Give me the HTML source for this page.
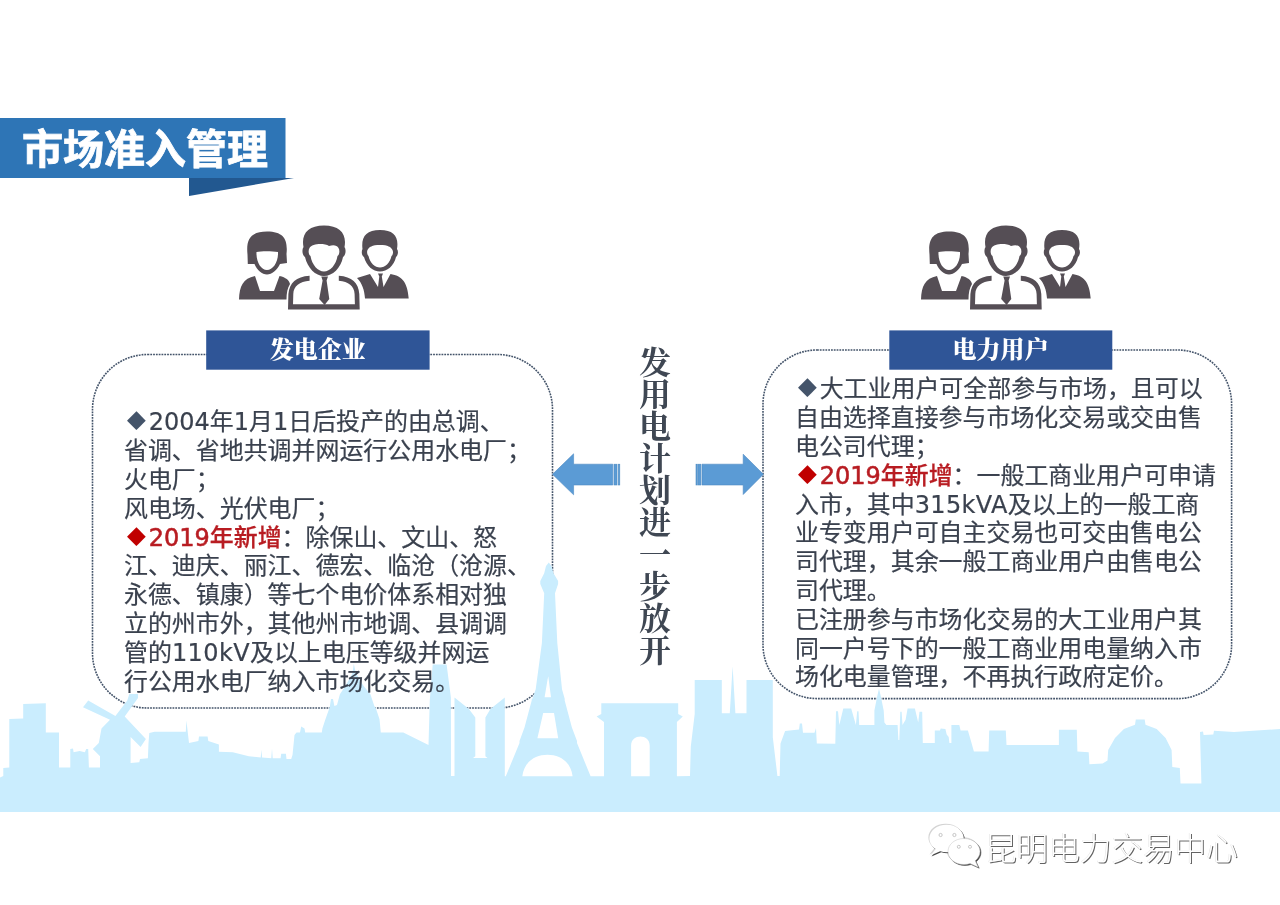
<!DOCTYPE html>
<html lang="zh-CN">
<head>
<meta charset="utf-8">
<title>市场准入管理</title>
<style>
html,body{margin:0;padding:0;background:#fff;}
body{width:1280px;height:905px;position:relative;overflow:hidden;
  font-family:"Liberation Sans","Noto Sans CJK SC",sans-serif;}
.abs{position:absolute;}
.ln,.title,.label,.vert,.wm{will-change:transform;}
.title{position:absolute;left:21.5px;top:120.7px;height:60px;line-height:59px;font-size:41px;font-weight:700;-webkit-text-stroke:0.8px #fff;
  color:#fff;white-space:nowrap;font-family:"Liberation Sans","Noto Sans CJK SC",sans-serif;}
.label{position:absolute;top:331px;height:40px;color:#fff;text-align:center;
  font-family:"Liberation Serif","Noto Serif CJK SC",serif;font-weight:900;font-size:24px;line-height:38px;white-space:nowrap;}
.ln{position:absolute;white-space:nowrap;font-size:23.95px;line-height:36px;height:36px;color:#3a414e;-webkit-text-stroke:0.2px #3a414e;
  font-family:"Liberation Sans","Noto Sans CJK SC",sans-serif;}
.dia{-webkit-text-stroke:0;display:inline-block;width:24.7px;text-align:center;font-family:"DejaVu Sans","Noto Sans CJK SC",sans-serif;font-size:24.5px;line-height:1;position:relative;top:-3px;}
.lat{font-family:"DejaVu Sans","Liberation Sans",sans-serif;font-size:24px;}
.latb{font-weight:400;-webkit-text-stroke:0.55px #b81c22;}
.red{color:#b81c22;font-weight:500;-webkit-text-stroke:0.25px #b81c22;}
.vert{position:absolute;left:638.6px;top:347.2px;width:32px;font-size:32px;line-height:32px;text-align:center;
  word-break:break-all;color:#3f4753;font-weight:700;font-family:"Liberation Serif","Noto Serif CJK SC",serif;}
.wm{position:absolute;left:984.6px;top:828.3px;font-size:31.6px;line-height:42px;white-space:nowrap;color:#fff;
  text-shadow:1px 1px 0.6px rgba(60,60,60,.8), -0.5px -0.5px 0.5px rgba(150,150,150,.3);
  font-family:"Liberation Sans","Noto Sans CJK SC",sans-serif;font-weight:300;}
</style>
</head>
<body>
<!-- dotted boxes -->
<svg class="abs" style="left:0;top:0" width="1280" height="905" viewBox="0 0 1280 905">
 <g fill="none" stroke="#44546a" stroke-width="1.6" stroke-dasharray="1.8 1.0">
  <rect x="92.5" y="354.5" width="460" height="353.5" rx="55" ry="55"/>
  <rect x="763" y="350" width="468.6" height="348.6" rx="54" ry="54"/>
 </g>
 <!-- skyline -->
 <path fill="#caedfe" fill-rule="evenodd" d="M0 812 L0 777.5 L3.3 776 L3.3 768 L9.3 767.6 L9.3 719 L23.2 718.5 L23.2 704 L45.8 703.3 L45.8 732.4 L59 732.4 L59 767.6 L70.3 767.6 L70.3 749 L73 748.4 L73.6 752.3 L79.6 751 L84.9 752.3 L86.2 749 L88.2 749 L88.9 767.6 L100 767.6 L100 756.3 L92.8 749 L98.8 743 L101.5 728.5 L110 719.8 L83 707.2 L88.2 700.6 L115.4 715.9 L127.3 700.6 L129.3 694 L138 694 L138 698 L124.7 716.5 L145.9 739 L140.6 747 L130.6 737 L130.6 763 L139.3 762.3 L140 759 L147.9 758.3 L148.5 743 L149.3 733 L154.6 731.8 L185.8 731.8 L186.4 720.5 L189 743 L198.4 741 L199 736.4 L207.6 736.4 L208.3 741 L218.9 744.4 L218.9 751.7 L232.8 752.3 L248.8 756.3 L260.7 757.6 L261.4 749.7 L262.1 757.6 L271.3 758.3 L272 748.4 L272.7 758.3 L280.6 758.3 L281.2 753.7 L285.9 753.7 L286.5 759 L291.2 759 L292.5 755 L294.5 735 L296.5 732.4 L300 732.4 L301.2 726.5 L304.5 728.5 L305.2 732.4 L321.8 732.4 L322.4 728.5 L325 720.5 L329.7 707.2 L331 699 L333 699 L334.4 706 L337 705 L339.9 694.3 L345.2 686.3 L350.5 677 L352.5 673 L353.8 663.8 L355.8 673 L363.8 686.3 L370.4 694.3 L374.4 706.2 L375.5 707.2 L379.5 719.2 L380.8 732.4 L403.3 732.4 L428.5 745 L429.8 700 L432.7 664.6 L446.6 664.4 L450.9 697.4 L451 776 L454.5 776 L454.5 697.4 L468.9 709 L475.3 717.5 L475.3 756.3 L473 758 L487.5 758 L485.4 756.3 L485.4 717.5 L490.4 709 L504.8 697.4 L504.8 776.3 L505.8 776.3 L519.5 743 L519.5 741 L524.5 727.5 L531.7 700.5 L531.7 698.7 L532.4 698.7 L535.7 689.3 L541.9 642.9 L544.2 593.3 L540.3 584 L540.3 581 L544.2 573.2 L546 566 L548.8 562.4 L551.5 566 L553.5 573.2 L558.1 581 L558.1 584 L555 593.3 L557.3 642.9 L562 689.3 L564.7 698.7 L564.7 700.5 L571.9 727.5 L577 741 L577 743 L590.6 776.3 L604 776.2 L604 722 L596.6 716.5 L601.3 714 L601.3 703.2 L678.2 703.2 L678.2 714 L682.8 716.5 L676.9 722 L676.9 776.2 L690 776 L690.8 746.6 L694.7 714.1 L694.7 680.1 L721.8 680.1 L721.8 713.3 L729.8 713.3 L732.6 666.2 L735.4 713.3 L746.5 713.3 L746.5 680.1 L772.8 680.1 L772.8 737.3 L777.4 776 L779.7 776 L780.5 743.5 L785.1 731 L799 729.6 L799.8 723.4 L802 723.4 L803 732.7 L814.5 732.7 L816 728 L816.8 743.5 L835.3 743.7 L836 711.2 L838 711.2 L839.3 725 L843.3 708.5 L851.2 708.5 L855.9 725 L857.2 711.2 L858.5 711.2 L859.2 725 L874.4 725 L874.4 710.5 L877 697.2 L879 688.6 L881 697.2 L883.7 710.5 L884.4 722.4 L886.4 725 L897.6 725 L898.4 740 L899.3 740 L900.3 711.8 L901.6 711.8 L902.5 725 L905.6 719.8 L907.6 708.5 L914.9 708.5 L918.2 722.4 L919.5 711.8 L922.2 711.8 L922.8 743 L934.8 743 L934.8 730.4 L940 730.4 L940.7 728.4 L945.4 729 L946.7 734.4 L948.7 737 L949.4 743 L951.4 743 L951.4 725 L959.3 725 L960.6 730.4 L967.9 730.4 L970.6 739.7 L973.9 751.6 L988.6 751.6 L989.2 730.4 L1005.8 730.4 L1006.5 745 L1058.9 745 L1058.9 729.7 L1076.8 729.7 L1077.4 751.6 L1088.7 752.3 L1089.4 764.2 L1102.6 763.6 L1107.5 760.5 L1108.2 750 L1115 738 L1123.9 729 L1135 724.7 L1135.8 719.5 L1144.7 719.5 L1145.5 724.7 L1156.7 729 L1165.6 738 L1171.6 750 L1172.3 767 L1179.8 768 L1180.5 783.6 L1201.4 783.6 L1200 732 L1203 731.5 L1203.6 735 L1213.3 734.4 L1214 730.7 L1234 732 L1280 729 L1280 812 Z M548.2 675.7 L544.6 697.3 L551 697.3 Z M543.2 713.1 L554 713.1 L558.2 738.2 L537.4 738.2 Z M522.3 776.3 C524 762 535 754.8 547.5 754.8 C560 754.8 571 762 572.6 776.3 Z M631.1 776.2 L631.1 745.5 C631.1 733.5 649.7 733.5 649.7 745.5 L649.7 776.2 Z"/>
 <!-- banner + labels -->
 <rect x="0" y="118" width="285.5" height="60" fill="#2e75b6"/>
 <rect x="206.2" y="330.4" width="223.4" height="39.3" fill="#2f5597"/>
 <rect x="889.3" y="330.4" width="223" height="39.3" fill="#2f5597"/>
 <polygon points="189,178 294,178 189,196" fill="#225890"/>
 <!-- arrows -->
 <g fill="#5b9bd5" stroke="#4f8cc4" stroke-width="0.6">
  <polygon points="552.5,474.3 573.6,453.8 573.6,464.2 612.8,464.2 612.8,485 573.6,485 573.6,494.8"/>
  <rect x="614" y="464.2" width="3" height="20.8"/>
  <rect x="618.2" y="464.2" width="1.6" height="20.8"/>
  <polygon points="763.4,474.3 743.2,454.2 743.2,464.2 702,464.2 702,485 743.2,485 743.2,494.5"/>
  <rect x="697.9" y="464.2" width="3" height="20.8"/>
  <rect x="696" y="464.2" width="1.2" height="20.8"/>
 </g>
</svg>
<div class="title">市场准入管理</div>
<svg class="abs" style="left:220px;top:210px" width="210" height="110" viewBox="0 0 210 110">
<g fill="#554e55">
 <!-- woman -->
 <path d="M27.5 44.5 C26 30 30 21.5 47 21.5 C64 21.5 68 30 66.5 44 L67 53 L60 54 C57 60 52 64.5 47 64.5 C42 64.5 37 60 34.5 54 L27.8 54 Z M36.5 42 C36 52 41 60 47 60 C53 60 58.5 52 58 42 C52 41 41 41 36.5 42 Z"/>
 <path d="M19 89.5 C19.5 76 23 68.5 35 66 L40 81 L54 81 L59.5 66 C66 67.5 69 70 70 74 C67.5 78 66.5 83 66.5 89.5 Z"/>
 <!-- right man -->
 <path d="M142.5 39 C141 27 146 20 160 20 C174 20 179 27 177 39 C179 42 177.5 46 176 47 C174 56 167 61.5 160 61.5 C153 61.5 146.5 56 144 47 C142 46 141 42 142.5 39 Z M147.5 40 C146.5 42 147.5 45 148.5 46 C150 53 155 57.5 160 57.5 C165 57.5 170 53 171.5 46 C173 45 173.5 42 172.5 40 C171 37 168 35 160 35 C152 35 149 37 147.5 40 Z"/>
 <path d="M137 68 L150 64 L158 77 L159.3 66.5 L158 63.5 L163 63.5 L161.8 66.5 L163.5 77 L170.5 64 C182 66 187.5 72 188.7 88.5 L145 88.5 C144.5 80 142 73 137 68 Z"/>
 <!-- centre man -->
 <path d="M83.5 37 C81 24 88 15.5 104 15.5 C120 15.5 127 24 124.5 37 C126.5 40 125.5 45.5 123 47 C121 58 112.5 66 104 66 C95.5 66 87.5 58 85 47 C82.5 45.5 81.5 40 83.5 37 Z M89.5 38 C88 40.5 88.5 44.5 90.5 46 C92 55 98 61.5 104 61.5 C110 61.5 116 55 117.5 46 C119.5 44.5 120 40.5 118.5 38 C117 35.5 114 34.5 109 36 C104 33 92 33.5 89.5 38 Z"/>
 <path d="M68 99.4 L68.4 84 C69.5 73 76 66.6 89.6 65.8 L89.6 70.8 C79.5 71.6 73.6 76 73.3 84 L73 94.3 L134.9 94.3 L134.6 84 C134.3 76 128.5 71.6 118.8 70.8 L118.8 65.8 C132 66.6 138.5 73 139.3 84 L139.7 99.4 Z"/>
 <path d="M101.3 66.5 L108 66.5 L106.6 70.5 L109.3 89 L104.6 95 L99.2 89 L102.6 70.5 Z"/>
</g></svg>
<svg class="abs" style="left:902.4px;top:209.6px" width="210" height="110" viewBox="0 0 210 110">
<g fill="#554e55">
 <!-- woman -->
 <path d="M27.5 44.5 C26 30 30 21.5 47 21.5 C64 21.5 68 30 66.5 44 L67 53 L60 54 C57 60 52 64.5 47 64.5 C42 64.5 37 60 34.5 54 L27.8 54 Z M36.5 42 C36 52 41 60 47 60 C53 60 58.5 52 58 42 C52 41 41 41 36.5 42 Z"/>
 <path d="M19 89.5 C19.5 76 23 68.5 35 66 L40 81 L54 81 L59.5 66 C66 67.5 69 70 70 74 C67.5 78 66.5 83 66.5 89.5 Z"/>
 <!-- right man -->
 <path d="M142.5 39 C141 27 146 20 160 20 C174 20 179 27 177 39 C179 42 177.5 46 176 47 C174 56 167 61.5 160 61.5 C153 61.5 146.5 56 144 47 C142 46 141 42 142.5 39 Z M147.5 40 C146.5 42 147.5 45 148.5 46 C150 53 155 57.5 160 57.5 C165 57.5 170 53 171.5 46 C173 45 173.5 42 172.5 40 C171 37 168 35 160 35 C152 35 149 37 147.5 40 Z"/>
 <path d="M137 68 L150 64 L158 77 L159.3 66.5 L158 63.5 L163 63.5 L161.8 66.5 L163.5 77 L170.5 64 C182 66 187.5 72 188.7 88.5 L145 88.5 C144.5 80 142 73 137 68 Z"/>
 <!-- centre man -->
 <path d="M83.5 37 C81 24 88 15.5 104 15.5 C120 15.5 127 24 124.5 37 C126.5 40 125.5 45.5 123 47 C121 58 112.5 66 104 66 C95.5 66 87.5 58 85 47 C82.5 45.5 81.5 40 83.5 37 Z M89.5 38 C88 40.5 88.5 44.5 90.5 46 C92 55 98 61.5 104 61.5 C110 61.5 116 55 117.5 46 C119.5 44.5 120 40.5 118.5 38 C117 35.5 114 34.5 109 36 C104 33 92 33.5 89.5 38 Z"/>
 <path d="M68 99.4 L68.4 84 C69.5 73 76 66.6 89.6 65.8 L89.6 70.8 C79.5 71.6 73.6 76 73.3 84 L73 94.3 L134.9 94.3 L134.6 84 C134.3 76 128.5 71.6 118.8 70.8 L118.8 65.8 C132 66.6 138.5 73 139.3 84 L139.7 99.4 Z"/>
 <path d="M101.3 66.5 L108 66.5 L106.6 70.5 L109.3 89 L104.6 95 L99.2 89 L102.6 70.5 Z"/>
</g></svg>
<div class="label" style="left:206.2px;width:223.4px">发电企业</div>
<div class="label" style="left:889.3px;width:223px">电力用户</div>
<div class="ln" style="left:124.3px;top:404.40px"><span class="dia" style="color:#44546a">◆</span><span class="lat">2004</span>年<span class="lat">1</span>月<span class="lat">1</span>日后投产的由总调、</div>
<div class="ln" style="left:124.3px;top:433.20px">省调、省地共调并网运行公用水电厂；</div>
<div class="ln" style="left:124.3px;top:462.00px">火电厂；</div>
<div class="ln" style="left:124.3px;top:490.80px">风电场、光伏电厂；</div>
<div class="ln" style="left:124.3px;top:519.60px"><span class="dia" style="color:#c00000">◆</span><span class="red"><span class="lat latb">2019</span>年新增</span>：除保山、文山、怒</div>
<div class="ln" style="left:124.3px;top:548.40px">江、迪庆、丽江、德宏、临沧（沧源、</div>
<div class="ln" style="left:124.3px;top:577.20px">永德、镇康）等七个电价体系相对独</div>
<div class="ln" style="left:124.3px;top:606.00px">立的州市外，其他州市地调、县调调</div>
<div class="ln" style="left:124.3px;top:634.80px">管的<span class="lat" style="letter-spacing:0.4px">110kV</span>及以上电压等级并网运</div>
<div class="ln" style="left:124.3px;top:663.60px">行公用水电厂纳入市场化交易。</div>
<div class="ln" style="left:794.8px;top:371.40px"><span class="dia" style="color:#44546a">◆</span>大工业用户可全部参与市场，且可以</div>
<div class="ln" style="left:794.8px;top:400.20px">自由选择直接参与市场化交易或交由售</div>
<div class="ln" style="left:794.8px;top:429.00px">电公司代理；</div>
<div class="ln" style="left:794.8px;top:457.80px"><span class="dia" style="color:#c00000">◆</span><span class="red"><span class="lat latb">2019</span>年新增</span>：一般工商业用户可申请</div>
<div class="ln" style="left:794.8px;top:486.60px">入市，其中<span class="lat" style="letter-spacing:0.35px">315kVA</span>及以上的一般工商</div>
<div class="ln" style="left:794.8px;top:515.40px">业专变用户可自主交易也可交由售电公</div>
<div class="ln" style="left:794.8px;top:544.20px">司代理，其余一般工商业用户由售电公</div>
<div class="ln" style="left:794.8px;top:573.00px">司代理。</div>
<div class="ln" style="left:794.8px;top:601.80px">已注册参与市场化交易的大工业用户其</div>
<div class="ln" style="left:794.8px;top:630.60px">同一户号下的一般工商业用电量纳入市</div>
<div class="ln" style="left:794.8px;top:659.40px">场化电量管理，不再执行政府定价。</div>
<div class="vert">发用电计划进一步放开</div>
<!-- watermark -->
<svg class="abs" style="left:924px;top:822px;overflow:visible;filter:drop-shadow(1.1px 1.1px 0.5px rgba(50,50,50,.9)) drop-shadow(-0.5px -0.5px 0.4px rgba(130,130,130,.35))" width="60" height="50" viewBox="0 0 60 50">
 <g fill="#fff">
  <path d="M22.6 2.700 C12.800 2.700 5.400 8.900 5.400 16.500 C5.400 20.800 7.800 24.600 11.600 27.100 L6.500 33.500 L16.200 29.300 C18.200 29.900 20.300 30.300 22.600 30.300 C32.400 30.300 39.800 24.100 39.800 16.500 C39.800 8.900 32.400 2.700 22.600 2.700 Z"/>
 </g>
 <g fill="#fff" stroke="#c4c4c4" stroke-width="0.5">
  <path d="M40 16.500 C31 16.500 24 22.300 24 29.500 C24 36.700 31 42.500 40 42.500 C42.200 42.500 44.200 42.200 46.100 41.500 L54.200 45.200 L51.200 38.800 C54.200 36.400 56 33.100 56 29.500 C56 22.300 49 16.500 40 16.500 Z"/>
 </g>
 <g fill="#fff" stroke="#b0b0b0" stroke-width="0.7">
  <circle cx="16.600" cy="13" r="1.600"/><circle cx="30.400" cy="13" r="1.600"/>
  <circle cx="34.800" cy="24.800" r="1.500"/><circle cx="46" cy="24.800" r="1.500"/>
 </g>
</svg>
<div class="wm">昆明电力交易中心</div>
</body>
</html>
